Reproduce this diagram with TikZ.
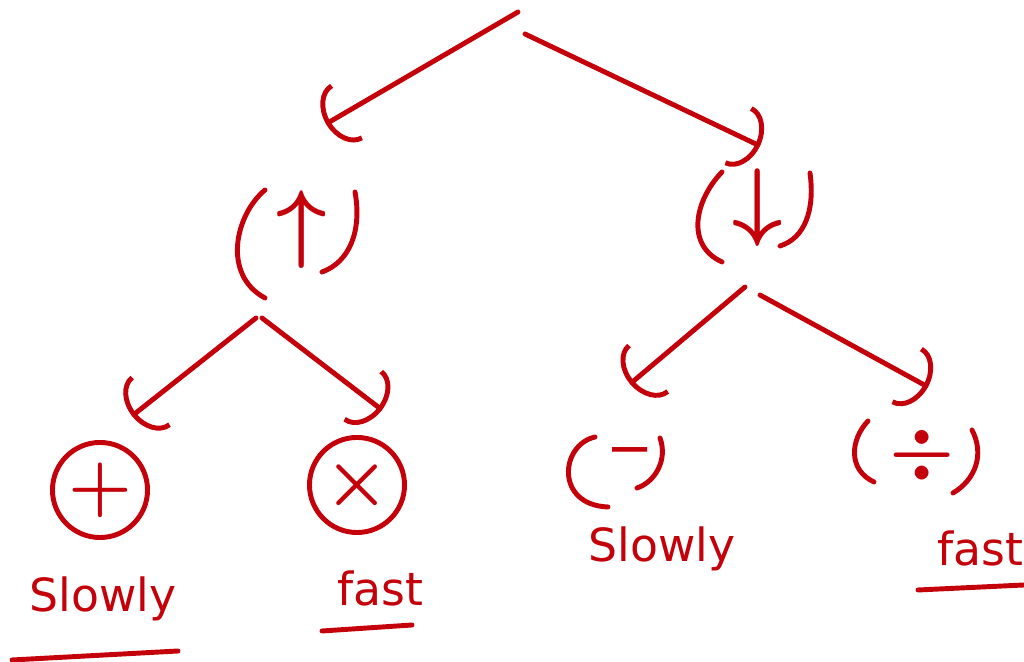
\documentclass[tikz,border=0pt]{standalone}
\usepackage{fontspec}
\setmainfont{DejaVu Sans}
\usetikzlibrary{arrows.meta}
\definecolor{ink}{RGB}{196,0,10}
\begin{document}
\begin{tikzpicture}[x=0.01cm,y=-0.01cm,
  pen/.style={draw=ink, line width=1.4pt, line cap=round, line join=round},
  conn/.style={pen, -{Arc Barb[length=2.4mm, width=6.5mm]}},
  sym/.style={text=ink, inner sep=0pt, font=\fontsize{30}{30}\selectfont\boldmath},
  word/.style={text=ink, inner sep=0pt, anchor=base, font=\fontsize{13}{13}\selectfont},
  ring/.style={pen, circle, minimum size=0.95cm, inner sep=0pt, text=ink, font=\fontsize{22}{22}\selectfont\boldmath}]
\fill[white] (0,0) rectangle (1024,662);
\useasboundingbox (0,0) rectangle (1024,662);
% nodes
\node[sym] (up) at (302,230) {$\uparrow$};
\node[sym] (down) at (758,208) {$\downarrow$};
\node[ring] (plus) at (100,490) {$+$};
\node[ring] (times) at (357,485) {$\times$};
\node[sym, font=\fontsize{16}{16}\selectfont] (minus) at (630,458) {−};
\node[sym, font=\fontsize{20}{20}\selectfont\boldmath] (div) at (922,455) {$\div$};
\node[word] (s1) at (103,612) {Slowly};
\node[word] (f1) at (380,606) {fast};
\node[word] (s2) at (662,562) {Slowly};
\node[word] (f2) at (980,566) {fast};
% parentheses
\draw[pen] (265,190) .. controls (235,215) and (222,275) .. (265,298);
\draw[pen] (355,192) .. controls (362,230) and (350,262) .. (322,272);
\draw[pen] (722,172) .. controls (695,200) and (685,245) .. (722,262);
\draw[pen] (810,173) .. controls (815,210) and (805,238) .. (780,246);
\draw[pen] (595,437) .. controls (560,445) and (555,505) .. (608,507);
\draw[pen] (660,438) .. controls (668,460) and (655,482) .. (637,488);
\draw[pen] (868,421) .. controls (850,440) and (848,470) .. (874,482);
\draw[pen] (972,430) .. controls (985,455) and (975,480) .. (953,493);
% connector ends
\coordinate (r1) at (518,12);
\coordinate (r2) at (525,34);
\coordinate (t1) at (326,124);
\coordinate (t2) at (760,146);
\coordinate (u1) at (256,318);
\coordinate (u2) at (262,318);
\coordinate (a1) at (132,416);
\coordinate (a2) at (382,410);
\coordinate (d1) at (745,287);
\coordinate (d2) at (760,295);
\coordinate (b1) at (630,384);
\coordinate (b2) at (928,387);
\draw[conn] (r1) -- (t1);
\draw[conn] (r2) -- (t2);
\draw[conn] (u1) -- (a1);
\draw[conn] (u2) -- (a2);
\draw[conn] (d1) -- (b1);
\draw[conn] (d2) -- (b2);
% underlines
\draw[pen] (12,660) -- (178,651);
\draw[pen] (322,631) -- (412,625);
\draw[pen] (918,590) -- (1024,585);
\end{tikzpicture}
\end{document}
